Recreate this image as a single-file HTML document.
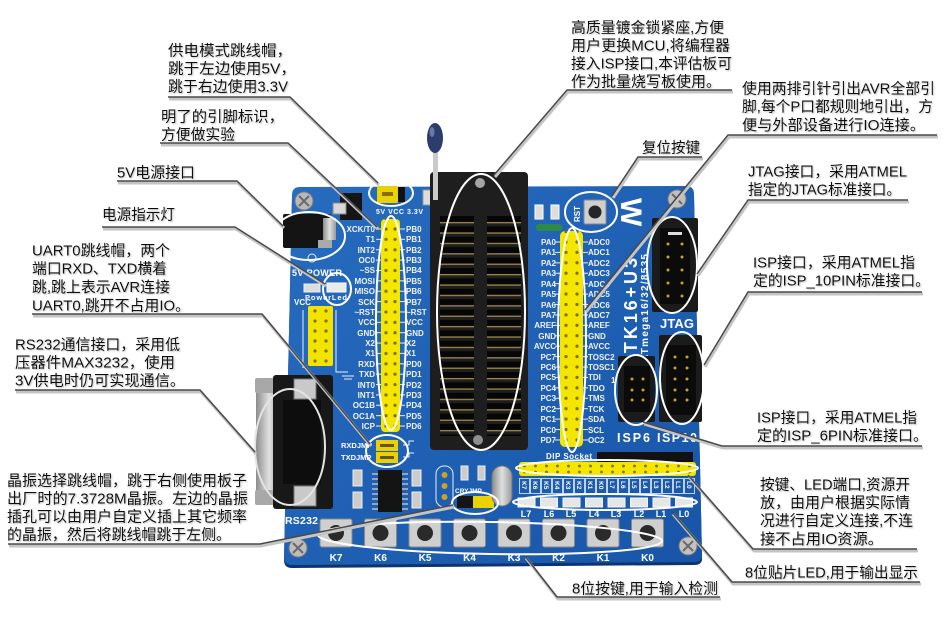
<!DOCTYPE html>
<html><head><meta charset="utf-8">
<style>
html,body{margin:0;padding:0;background:#fff;}
svg{display:block;}
.t{font-family:"Liberation Sans","Noto Sans CJK SC",sans-serif;font-size:15px;fill:#111;}
.s{font-family:"Liberation Sans",sans-serif;font-weight:bold;fill:#fff;}
.pl{font-family:"Liberation Sans",sans-serif;font-weight:bold;fill:#f2f2f2;font-size:8px;}
.cs{fill:none;stroke:#c4c4c4;stroke-width:3;}
.cl{fill:none;stroke:#4a4a4a;stroke-width:1.5;}
.el{fill:none;stroke:#fff;stroke-width:2;}
</style></head><body>
<svg width="951" height="624" viewBox="0 0 951 624" xmlns="http://www.w3.org/2000/svg">
<defs>
 <filter id="ts" x="-5%" y="-20%" width="110%" height="150%">
  <feDropShadow dx="1" dy="1" stdDeviation="0.7" flood-color="#888" flood-opacity="0.55"/>
 </filter>
 <linearGradient id="bd" x1="0" y1="0" x2="1" y2="1">
  <stop offset="0" stop-color="#276cc0"/><stop offset="1" stop-color="#1855a8"/>
 </linearGradient>
 <linearGradient id="mt" x1="0" y1="0" x2="1" y2="0">
  <stop offset="0" stop-color="#8c8c8c"/><stop offset="0.5" stop-color="#e0e0e0"/><stop offset="1" stop-color="#9a9a9a"/>
 </linearGradient>
 <pattern id="pv" patternUnits="userSpaceOnUse" x="381" y="224" width="20" height="10.37">
   <circle cx="5" cy="5" r="1.6" fill="#7d7000"/><circle cx="14" cy="5" r="1.6" fill="#7d7000"/>
 </pattern>
 <pattern id="pa" patternUnits="userSpaceOnUse" x="560" y="237" width="24" height="10.42">
   <circle cx="6" cy="5" r="1.6" fill="#7d7000"/><circle cx="17" cy="5" r="1.6" fill="#7d7000"/>
 </pattern>
 <pattern id="pc" patternUnits="userSpaceOnUse" x="308" y="306" width="25" height="10">
   <circle cx="7" cy="5" r="1.6" fill="#7d7000"/><circle cx="18" cy="5" r="1.6" fill="#7d7000"/>
 </pattern>
 <pattern id="ph" patternUnits="userSpaceOnUse" x="519" y="462" width="11" height="14">
   <circle cx="5.5" cy="4" r="1.4" fill="#7d7000"/><circle cx="5.5" cy="10" r="1.4" fill="#7d7000"/>
 </pattern>
 <pattern id="kb" patternUnits="userSpaceOnUse" x="519" y="478" width="11" height="16">
   <rect x="0.5" y="0.5" width="10" height="15" fill="none" stroke="#e8eef8" stroke-width="0.8"/>
 </pattern>
 <pattern id="sl" patternUnits="userSpaceOnUse" x="440" y="216" width="100" height="10.4">
   <rect x="0" y="0" width="34" height="6" fill="#060606"/>
   <rect x="0" y="6" width="34" height="1.3" fill="#9c8a48"/>
   <rect x="47" y="0" width="34" height="6" fill="#060606"/>
   <rect x="47" y="6" width="34" height="1.3" fill="#9c8a48"/>
 </pattern>
 <pattern id="dl" patternUnits="userSpaceOnUse" x="0" y="224" width="10" height="10.37">
   <rect x="0" y="4.5" width="10" height="1" fill="#e8eef8"/>
 </pattern>
 <pattern id="dl2" patternUnits="userSpaceOnUse" x="0" y="237" width="10" height="10.42">
   <rect x="0" y="4.5" width="10" height="1" fill="#e8eef8"/>
 </pattern>
</defs>

<!-- ===== BOARD ===== -->
<path d="M300,190 L686,189 Q694,189 694,197 L702,557 Q703,565 694,565 L292,568 Q284,568 284,560 L292,198 Q292,190 300,190 Z" fill="#0d3470"/>
<path d="M300,187 L686,186 Q694,186 694,194 L702,554 Q703,562 694,562 L292,565 Q284,565 284,557 L292,195 Q292,187 300,187 Z" fill="url(#bd)"/>

<!-- screws -->
<g>
 <circle cx="304" cy="201" r="9" fill="#b9b9b9" stroke="#7a7a7a"/><path d="M299,196 L309,206 M309,196 L299,206" stroke="#6a6a6a" stroke-width="2"/>
 <circle cx="677" cy="199" r="9" fill="#c0c0c0" stroke="#7a7a7a"/><path d="M672,194 L682,204 M682,194 L672,204" stroke="#6a6a6a" stroke-width="2"/>
 <circle cx="298" cy="548" r="9" fill="#bdbdbd" stroke="#7a7a7a"/><path d="M293,543 L303,553 M303,543 L293,553" stroke="#6a6a6a" stroke-width="2"/>
 <circle cx="688" cy="546" r="9" fill="#c2c2c2" stroke="#7a7a7a"/><path d="M683,541 L693,551 M693,541 L683,551" stroke="#6a6a6a" stroke-width="2"/>
</g>

<!-- DC jack & power area -->
<rect x="340" y="193" width="22" height="27" fill="#151515"/>
<rect x="333" y="203" width="13" height="11" fill="#d8d8d8" stroke="#888"/>
<rect x="283" y="214" width="48" height="34" rx="2" fill="#141414"/>
<rect x="323" y="218" width="13" height="22" fill="url(#mt)"/>
<rect x="318" y="240" width="14" height="8" fill="#aaa"/>
<circle cx="312" cy="258" r="4" fill="none" stroke="#e8eef8" stroke-width="1"/>
<text class="s" x="292" y="276" font-size="9" textLength="50">5V POWER</text>
<rect x="304" y="284" width="16" height="8" fill="#ddd" stroke="#eee"/>
<rect x="327" y="283" width="19" height="9" fill="#eaeaea" stroke="#fff"/>
<text class="s" x="305" y="300" font-size="7.5" textLength="42">PowerLed</text>

<!-- power jumper -->
<rect x="377" y="186" width="21" height="17" rx="1" fill="#e9d200"/>
<rect x="382" y="192" width="11" height="4" fill="#8a6c00"/>
<rect x="398" y="187" width="7" height="15" fill="#111"/>
<text class="s" x="376" y="214" font-size="7" textLength="47">5V VCC 3.3V</text>
<rect x="423" y="190" width="9" height="15" fill="#ddd" stroke="#999"/>

<!-- VCC header -->
<text class="s" x="294" y="305" font-size="8">VCC</text>
<rect x="308" y="306" width="25" height="60" rx="2" fill="#f2e400"/>
<rect x="308" y="306" width="25" height="60" fill="url(#pc)"/>
<path d="M303,310 L303,368 M336,310 L336,372 L348,372 M342,376 L354,376 M344,379 L352,379" stroke="#e8eef8" stroke-width="1" fill="none"/>

<!-- DB9 -->
<rect x="256" y="390" width="26" height="104" rx="3" fill="url(#mt)"/>
<rect x="255" y="378" width="32" height="15" rx="2" fill="#a8a8a8"/>
<rect x="255" y="490" width="32" height="15" rx="2" fill="#a8a8a8"/>
<rect x="273" y="375" width="60" height="134" rx="3" fill="#181818"/>
<rect x="283" y="400" width="38" height="84" fill="#0d0d0d"/>
<rect x="294" y="379" width="22" height="20" fill="#c9c9c9" stroke="#777"/>
<rect x="294" y="486" width="22" height="20" fill="#c9c9c9" stroke="#777"/>
<text class="s" x="285" y="524" font-size="10.5" textLength="33">RS232</text>

<!-- PB header labels -->
<rect x="376" y="224" width="5" height="207" fill="url(#dl)"/>
<rect x="400" y="224" width="5" height="207" fill="url(#dl)"/>
<g class="pl" text-anchor="end">
<text x="375" y="232">XCK/T0</text><text x="375" y="242">T1</text><text x="375" y="253">INT2</text><text x="375" y="263">OC0</text><text x="375" y="273">~SS</text><text x="375" y="284">MOSI</text><text x="375" y="294">MISO</text><text x="375" y="305">SCK</text><text x="375" y="315">~RST</text><text x="375" y="325">VCC</text><text x="375" y="336">GND</text><text x="375" y="346">X2</text><text x="375" y="356">X1</text><text x="375" y="367">RXD</text><text x="375" y="377">TXD</text><text x="375" y="388">INT0</text><text x="375" y="398">INT1</text><text x="375" y="408">OC1B</text><text x="375" y="419">OC1A</text><text x="375" y="429">ICP</text>
</g>
<g class="pl">
<text x="406" y="232">PB0</text><text x="406" y="242">PB1</text><text x="406" y="253">PB2</text><text x="406" y="263">PB3</text><text x="406" y="273">PB4</text><text x="406" y="284">PB5</text><text x="406" y="294">PB6</text><text x="406" y="305">PB7</text><text x="406" y="315">~RST</text><text x="406" y="325">VCC</text><text x="406" y="336">GND</text><text x="406" y="346">X2</text><text x="406" y="356">X1</text><text x="406" y="367">PD0</text><text x="406" y="377">PD1</text><text x="406" y="388">PD2</text><text x="406" y="398">PD3</text><text x="406" y="408">PD4</text><text x="406" y="419">PD5</text><text x="406" y="429">PD6</text>
</g>
<rect x="381" y="219" width="19" height="213" rx="4" fill="#f4e600"/>
<rect x="381" y="219" width="19" height="213" fill="url(#pv)"/>

<!-- RXD/TXD jumpers -->
<text class="s" x="341" y="448" font-size="7.5">RXDJMP</text>
<text class="s" x="341" y="460" font-size="7.5">TXDJMP</text>
<rect x="376" y="440" width="22" height="11" fill="#e9d200"/><rect x="380" y="444" width="14" height="3" fill="#6a5400"/>
<rect x="376" y="452" width="22" height="11" fill="#e9d200"/><rect x="380" y="456" width="14" height="3" fill="#6a5400"/>
<path d="M403,445 L409,445 L409,441 L414,441 M403,457 L409,457 L409,453 L414,453" stroke="#e8eef8" fill="none" stroke-width="1"/>

<!-- MAX3232 area -->
<rect x="378" y="470" width="24" height="42" fill="#141414"/>
<path d="M372,474 H378 M372,479 H378 M372,484 H378 M372,489 H378 M372,494 H378 M372,499 H378 M372,504 H378 M372,509 H378 M402,474 H408 M402,479 H408 M402,484 H408 M402,489 H408 M402,494 H408 M402,499 H408 M402,504 H408 M402,509 H408" stroke="#bbb" stroke-width="1.5"/>
<rect x="353" y="470" width="9" height="16" fill="#ccc" stroke="#eee"/>
<rect x="353" y="492" width="9" height="16" fill="#ccc" stroke="#eee"/>
<rect x="412" y="470" width="9" height="16" fill="#ccc" stroke="#eee"/>
<rect x="412" y="492" width="9" height="16" fill="#ccc" stroke="#eee"/>

<!-- crystal section -->
<rect x="436" y="466" width="17" height="41" rx="8" fill="none" stroke="#e8eef8" stroke-width="1"/>
<circle cx="444.5" cy="475" r="3" fill="#c9a227"/><circle cx="444.5" cy="486" r="3" fill="#c9a227"/><circle cx="444.5" cy="497" r="3" fill="#c9a227"/>
<rect x="461" y="466" width="7" height="14" fill="#ccc" stroke="#eee"/>
<rect x="478" y="466" width="7" height="14" fill="#ccc" stroke="#eee"/>
<text class="s" x="455" y="493" font-size="6.5">CRYJMP</text>
<rect x="457" y="496" width="16" height="12" fill="#151515"/>
<rect x="473" y="496" width="21" height="12" fill="#e9d200"/>
<rect x="492" y="466" width="20" height="40" rx="10" fill="url(#mt)" stroke="#777"/>

<!-- DIP socket -->
<rect x="430" y="172" width="98" height="278" rx="4" fill="#1e1e1e"/>
<rect x="440" y="214" width="81" height="222" fill="url(#sl)"/>
<circle cx="480" cy="183" r="5" fill="#a5a5a5"/>
<circle cx="478" cy="440" r="5" fill="#8f8f8f"/>
<!-- lever -->
<rect x="433" y="150" width="5" height="50" fill="#cacaca"/>
<ellipse cx="435" cy="138" rx="8" ry="15" fill="#2c3c6e"/>
<ellipse cx="432" cy="132" rx="2.5" ry="5" fill="#6878a8"/>

<!-- right section top items -->
<rect x="535" y="205" width="8" height="14" fill="#ddd" stroke="#fff"/>
<rect x="551" y="205" width="8" height="14" fill="#ddd" stroke="#fff"/>
<rect x="536" y="224" width="26" height="7" rx="3" fill="#2f8a4a"/>
<rect x="584" y="200" width="22" height="24" rx="1" fill="#cfcfcf" stroke="#888"/>
<circle cx="595" cy="212" r="6.5" fill="#262626"/>
<text class="s" font-size="8" transform="translate(580,222) rotate(-90)">RST</text>
<text class="s" font-size="30" transform="translate(621,198) rotate(90)">W</text>

<!-- PA header labels -->
<rect x="555" y="237" width="5" height="208" fill="url(#dl2)"/>
<rect x="583" y="237" width="5" height="208" fill="url(#dl2)"/>
<g class="pl" text-anchor="end">
<text x="556" y="245">PA0</text><text x="556" y="255">PA1</text><text x="556" y="266">PA2</text><text x="556" y="276">PA3</text><text x="556" y="287">PA4</text><text x="556" y="297">PA5</text><text x="556" y="308">PA6</text><text x="556" y="318">PA7</text><text x="556" y="328">AREF</text><text x="556" y="339">GND</text><text x="556" y="349">AVCC</text><text x="556" y="360">PC7</text><text x="556" y="370">PC6</text><text x="556" y="380">PC5</text><text x="556" y="391">PC4</text><text x="556" y="401">PC3</text><text x="556" y="412">PC2</text><text x="556" y="422">PC1</text><text x="556" y="433">PC0</text><text x="556" y="443">PD7</text>
</g>
<g class="pl">
<text x="588" y="245">ADC0</text><text x="588" y="255">ADC1</text><text x="588" y="266">ADC2</text><text x="588" y="276">ADC3</text><text x="588" y="287">ADC4</text><text x="588" y="297">ADC5</text><text x="588" y="308">ADC6</text><text x="588" y="318">ADC7</text><text x="588" y="328">AREF</text><text x="588" y="339">GND</text><text x="588" y="349">AVCC</text><text x="588" y="360">TOSC2</text><text x="588" y="370">TOSC1</text><text x="588" y="380">TDI</text><text x="588" y="391">TDO</text><text x="588" y="401">TMS</text><text x="588" y="412">TCK</text><text x="588" y="422">SDA</text><text x="588" y="433">SCL</text><text x="588" y="443">OC2</text>
</g>
<rect x="560" y="231" width="23" height="216" rx="5" fill="#f4e600"/>
<rect x="560" y="231" width="23" height="216" fill="url(#pa)"/>

<!-- STK text -->
<text class="s" font-size="18" transform="translate(637,368) rotate(-90)" textLength="110">STK16+U3</text>
<text class="s" font-size="10" transform="translate(648,362) rotate(-90)" textLength="108">ATmega16/32/8535</text>

<!-- JTAG -->
<rect x="652" y="218" width="46" height="94" rx="2" fill="#1b1b1b"/>
<rect x="660" y="228" width="30" height="76" fill="#0b0b0b"/>
<rect x="668" y="232" width="14" height="3" fill="#ddd"/>
<g fill="#c9a227">
<circle cx="668" cy="244" r="1.5"/><circle cx="682" cy="244" r="1.5"/><circle cx="668" cy="257" r="1.5"/><circle cx="682" cy="257" r="1.5"/><circle cx="668" cy="270" r="1.5"/><circle cx="682" cy="270" r="1.5"/><circle cx="668" cy="283" r="1.5"/><circle cx="682" cy="283" r="1.5"/><circle cx="668" cy="296" r="1.5"/><circle cx="682" cy="296" r="1.5"/>
</g>
<text class="s" x="660" y="328" font-size="13" textLength="34">JTAG</text>

<!-- ISP10 / ISP6 -->
<rect x="659" y="335" width="43" height="87" rx="2" fill="#1b1b1b"/>
<rect x="666" y="345" width="30" height="70" fill="#0b0b0b"/>
<rect x="618" y="356" width="37" height="66" rx="2" fill="#1b1b1b"/>
<rect x="624" y="366" width="26" height="46" fill="#0b0b0b"/>
<g fill="#c9a227">
<circle cx="675" cy="357" r="1.5"/><circle cx="687" cy="357" r="1.5"/><circle cx="675" cy="368" r="1.5"/><circle cx="687" cy="368" r="1.5"/><circle cx="675" cy="379" r="1.5"/><circle cx="687" cy="379" r="1.5"/><circle cx="675" cy="390" r="1.5"/><circle cx="687" cy="390" r="1.5"/><circle cx="675" cy="400" r="1.5"/><circle cx="687" cy="400" r="1.5"/>
<circle cx="632" cy="379" r="1.5"/><circle cx="643" cy="379" r="1.5"/><circle cx="632" cy="390" r="1.5"/><circle cx="643" cy="390" r="1.5"/><circle cx="632" cy="400" r="1.5"/><circle cx="643" cy="400" r="1.5"/>
</g>
<text class="s" x="611" y="383" font-size="8">1</text>
<text class="s" x="617" y="442" font-size="12.5" textLength="33">ISP6</text>
<text class="s" x="657" y="442" font-size="12.5" textLength="40">ISP10</text>

<!-- DIP socket label, headers -->
<text class="s" x="546" y="459" font-size="8" textLength="46">DIP Socket</text>
<rect x="597" y="452" width="96" height="11" fill="#111"/>
<rect x="519" y="462" width="177" height="14" rx="3" fill="#f4e600"/>
<rect x="519" y="462" width="177" height="14" fill="url(#ph)"/>
<rect x="519" y="478" width="176" height="16" fill="url(#kb)"/>
<g class="s" font-size="6.5">
<text transform="translate(522,481) rotate(90)">K7</text><text transform="translate(533,481) rotate(90)">K6</text><text transform="translate(544,481) rotate(90)">K5</text><text transform="translate(555,481) rotate(90)">K4</text><text transform="translate(566,481) rotate(90)">K3</text><text transform="translate(577,481) rotate(90)">K2</text><text transform="translate(588,481) rotate(90)">K1</text><text transform="translate(599,481) rotate(90)">K0</text>
<text transform="translate(610,481) rotate(90)">L7</text><text transform="translate(621,481) rotate(90)">L6</text><text transform="translate(632,481) rotate(90)">L5</text><text transform="translate(643,481) rotate(90)">L4</text><text transform="translate(654,481) rotate(90)">L3</text><text transform="translate(665,481) rotate(90)">L2</text><text transform="translate(676,481) rotate(90)">L1</text><text transform="translate(687,481) rotate(90)">L0</text>
</g>

<!-- LEDs -->
<g fill="#e6e6e6" stroke="#f4f8ff" stroke-width="1">
<rect x="518" y="498" width="17" height="9"/><rect x="540.5" y="498" width="17" height="9"/><rect x="563" y="498" width="17" height="9"/><rect x="585.5" y="498" width="17" height="9"/><rect x="608" y="498" width="17" height="9"/><rect x="630.5" y="498" width="17" height="9"/><rect x="653" y="498" width="17" height="9"/><rect x="675.5" y="498" width="17" height="9"/>
</g>
<g class="s" font-size="9" text-anchor="middle">
<text x="526" y="517">L7</text><text x="549" y="517">L6</text><text x="571" y="517">L5</text><text x="594" y="517">L4</text><text x="616" y="517">L3</text><text x="639" y="517">L2</text><text x="661" y="517">L1</text><text x="684" y="517">L0</text>
</g>

<!-- Keys -->
<g>
<rect x="320" y="519" width="32" height="28" rx="2" fill="#cfcfcf" stroke="#888"/><circle cx="336" cy="533" r="8" fill="#2a2a2a"/>
<rect x="364.5" y="519" width="32" height="28" rx="2" fill="#cfcfcf" stroke="#888"/><circle cx="380.5" cy="533" r="8" fill="#2a2a2a"/>
<rect x="409" y="519" width="32" height="28" rx="2" fill="#cfcfcf" stroke="#888"/><circle cx="425" cy="533" r="8" fill="#2a2a2a"/>
<rect x="453.5" y="519" width="32" height="28" rx="2" fill="#cfcfcf" stroke="#888"/><circle cx="469.5" cy="533" r="8" fill="#2a2a2a"/>
<rect x="498" y="519" width="32" height="28" rx="2" fill="#cfcfcf" stroke="#888"/><circle cx="514" cy="533" r="8" fill="#2a2a2a"/>
<rect x="542.5" y="519" width="32" height="28" rx="2" fill="#cfcfcf" stroke="#888"/><circle cx="558.5" cy="533" r="8" fill="#2a2a2a"/>
<rect x="587" y="519" width="32" height="28" rx="2" fill="#cfcfcf" stroke="#888"/><circle cx="603" cy="533" r="8" fill="#2a2a2a"/>
<rect x="631.5" y="519" width="32" height="28" rx="2" fill="#cfcfcf" stroke="#888"/><circle cx="647.5" cy="533" r="8" fill="#2a2a2a"/>
</g>
<g class="s" font-size="10" text-anchor="middle">
<text x="336" y="561">K7</text><text x="380.5" y="561">K6</text><text x="425" y="561">K5</text><text x="469.5" y="561">K4</text><text x="514" y="561">K3</text><text x="558.5" y="561">K2</text><text x="603" y="561">K1</text><text x="647.5" y="561">K0</text>
</g>

<!-- ===== ELLIPSES ===== -->
<g class="el">
<ellipse cx="391" cy="193" rx="22" ry="13"/>
<ellipse cx="309" cy="236" rx="36" ry="24"/>
<ellipse cx="337" cy="289" rx="14" ry="16"/>
<ellipse cx="391" cy="323" rx="15" ry="107"/>
<ellipse cx="387" cy="451" rx="21" ry="16"/>
<ellipse cx="290" cy="447" rx="35" ry="58" stroke="#e4e4e4"/>
<ellipse cx="475" cy="503" rx="23" ry="11"/>
<ellipse cx="490" cy="538" rx="172" ry="16" transform="rotate(1 490 538)"/>
<ellipse cx="481" cy="312" rx="44" ry="138"/>
<ellipse cx="591" cy="212" rx="26" ry="20"/>
<ellipse cx="572" cy="340" rx="14" ry="112"/>
<ellipse cx="672" cy="265" rx="25" ry="48"/>
<ellipse cx="682" cy="378" rx="22" ry="46"/>
<ellipse cx="636" cy="390" rx="21" ry="35"/>
<ellipse cx="607" cy="468" rx="91" ry="8"/>
<ellipse cx="605" cy="502" rx="92" ry="8"/>
</g>

<!-- ===== CONNECTORS ===== -->
<g class="cs" transform="translate(1,2)">
<polyline points="168,97 290,97 378,183"/>
<polyline points="160,143 288,143 377,227"/>
<polyline points="117,181 237,181 283,226"/>
<polyline points="102,227 235,227 325,284"/>
<polyline points="32,314 262,314 370,444"/>
<polyline points="15,390 200,390 255,452"/>
<polyline points="8,544 260,544 453,505"/>
<polyline points="732,90 567,90 494,175"/>
<polyline points="937,135 728,135 585,310"/>
<polyline points="702,157 638,157 612,196"/>
<polyline points="908,200 748,200 697,274"/>
<polyline points="922,292 748,292 704,365"/>
<polyline points="922,446 722,446 643,422"/>
<polyline points="917,549 753,549 688,475"/>
<polyline points="920,582 732,582 672,512"/>
<polyline points="720,597 557,597 525,556"/>
</g>
<g class="cl">
<polyline points="168,97 290,97 378,183"/>
<polyline points="160,143 288,143 377,227"/>
<polyline points="117,181 237,181 283,226"/>
<polyline points="102,227 235,227 325,284"/>
<polyline points="32,314 262,314 370,444"/>
<polyline points="15,390 200,390 255,452"/>
<polyline points="8,544 260,544 453,505"/>
<polyline points="732,90 567,90 494,175"/>
<polyline points="937,135 728,135 585,310"/>
<polyline points="702,157 638,157 612,196"/>
<polyline points="908,200 748,200 697,274"/>
<polyline points="922,292 748,292 704,365"/>
<polyline points="922,446 722,446 643,422"/>
<polyline points="917,549 753,549 688,475"/>
<polyline points="920,582 732,582 672,512"/>
<polyline points="720,597 557,597 525,556"/>
</g>

<!-- ===== LABEL TEXT ===== -->
<g class="t" filter="url(#ts)">
<text x="168" y="55.5" textLength="124" lengthAdjust="spacingAndGlyphs">供电模式跳线帽，</text>
<text x="168" y="73.5" textLength="128" lengthAdjust="spacingAndGlyphs">跳于左边使用5V，</text>
<text x="168" y="91.5" textLength="120" lengthAdjust="spacingAndGlyphs">跳于右边使用3.3V</text>

<text x="161" y="121.5" textLength="123" lengthAdjust="spacingAndGlyphs">明了的引脚标识，</text>
<text x="161" y="139.5" textLength="74" lengthAdjust="spacingAndGlyphs">方便做实验</text>

<text x="117" y="177.5" textLength="78" lengthAdjust="spacingAndGlyphs">5V电源接口</text>
<text x="102" y="219.5" textLength="73" lengthAdjust="spacingAndGlyphs">电源指示灯</text>

<text x="32" y="255.5" textLength="138" lengthAdjust="spacingAndGlyphs">UART0跳线帽，两个</text>
<text x="32" y="273.5" textLength="135" lengthAdjust="spacingAndGlyphs">端口RXD、TXD横着</text>
<text x="32" y="292" textLength="138" lengthAdjust="spacingAndGlyphs">跳,跳上表示AVR连接</text>
<text x="32" y="310.5" textLength="158" lengthAdjust="spacingAndGlyphs">UART0,跳开不占用IO。</text>

<text x="15" y="349.5" textLength="165" lengthAdjust="spacingAndGlyphs">RS232通信接口，采用低</text>
<text x="15" y="367.5" textLength="160" lengthAdjust="spacingAndGlyphs">压器件MAX3232，使用</text>
<text x="15" y="385.5" textLength="170" lengthAdjust="spacingAndGlyphs">3V供电时仍可实现通信。</text>

<text x="7" y="485.5" textLength="240" lengthAdjust="spacingAndGlyphs">晶振选择跳线帽，跳于右侧使用板子</text>
<text x="7" y="503.5" textLength="241" lengthAdjust="spacingAndGlyphs">出厂时的7.3728M晶振。左边的晶振</text>
<text x="7" y="521.5" textLength="240" lengthAdjust="spacingAndGlyphs">插孔可以由用户自定义插上其它频率</text>
<text x="7" y="539.5" textLength="224" lengthAdjust="spacingAndGlyphs">的晶振，然后将跳线帽跳于左侧。</text>

<text x="571" y="32.5" textLength="153" lengthAdjust="spacingAndGlyphs">高质量镀金锁紧座,方便</text>
<text x="571" y="50.5" textLength="159" lengthAdjust="spacingAndGlyphs">用户更换MCU,将编程器</text>
<text x="571" y="68.5" textLength="161" lengthAdjust="spacingAndGlyphs">接入ISP接口,本评估板可</text>
<text x="571" y="86.5" textLength="150" lengthAdjust="spacingAndGlyphs">作为批量烧写板使用。</text>

<text x="742" y="93.5" textLength="193" lengthAdjust="spacingAndGlyphs">使用两排引针引出AVR全部引</text>
<text x="742" y="111.5" textLength="191" lengthAdjust="spacingAndGlyphs">脚,每个P口都规则地引出，方</text>
<text x="742" y="130" textLength="183" lengthAdjust="spacingAndGlyphs">便与外部设备进行IO连接。</text>

<text x="642" y="152.5" textLength="58" lengthAdjust="spacingAndGlyphs">复位按键</text>

<text x="748" y="176.5" textLength="159" lengthAdjust="spacingAndGlyphs">JTAG接口，采用ATMEL</text>
<text x="748" y="194.5" textLength="153" lengthAdjust="spacingAndGlyphs">指定的JTAG标准接口。</text>

<text x="753" y="267.5" textLength="162" lengthAdjust="spacingAndGlyphs">ISP接口，采用ATMEL指</text>
<text x="753" y="285.5" textLength="177" lengthAdjust="spacingAndGlyphs">定的ISP_10PIN标准接口。</text>

<text x="757" y="422.5" textLength="160" lengthAdjust="spacingAndGlyphs">ISP接口，采用ATMEL指</text>
<text x="757" y="440.5" textLength="171" lengthAdjust="spacingAndGlyphs">定的ISP_6PIN标准接口。</text>

<text x="760" y="489.5" textLength="150" lengthAdjust="spacingAndGlyphs">按键、LED端口,资源开</text>
<text x="760" y="507.5" textLength="150" lengthAdjust="spacingAndGlyphs">放，由用户根据实际情</text>
<text x="760" y="525.5" textLength="153" lengthAdjust="spacingAndGlyphs">况进行自定义连接,不连</text>
<text x="760" y="544" textLength="123" lengthAdjust="spacingAndGlyphs">接不占用IO资源。</text>

<text x="745" y="577.5" textLength="173" lengthAdjust="spacingAndGlyphs">8位贴片LED,用于输出显示</text>
<text x="572" y="593.5" textLength="146" lengthAdjust="spacingAndGlyphs">8位按键,用于输入检测</text>
</g>
</svg>
</body></html>
